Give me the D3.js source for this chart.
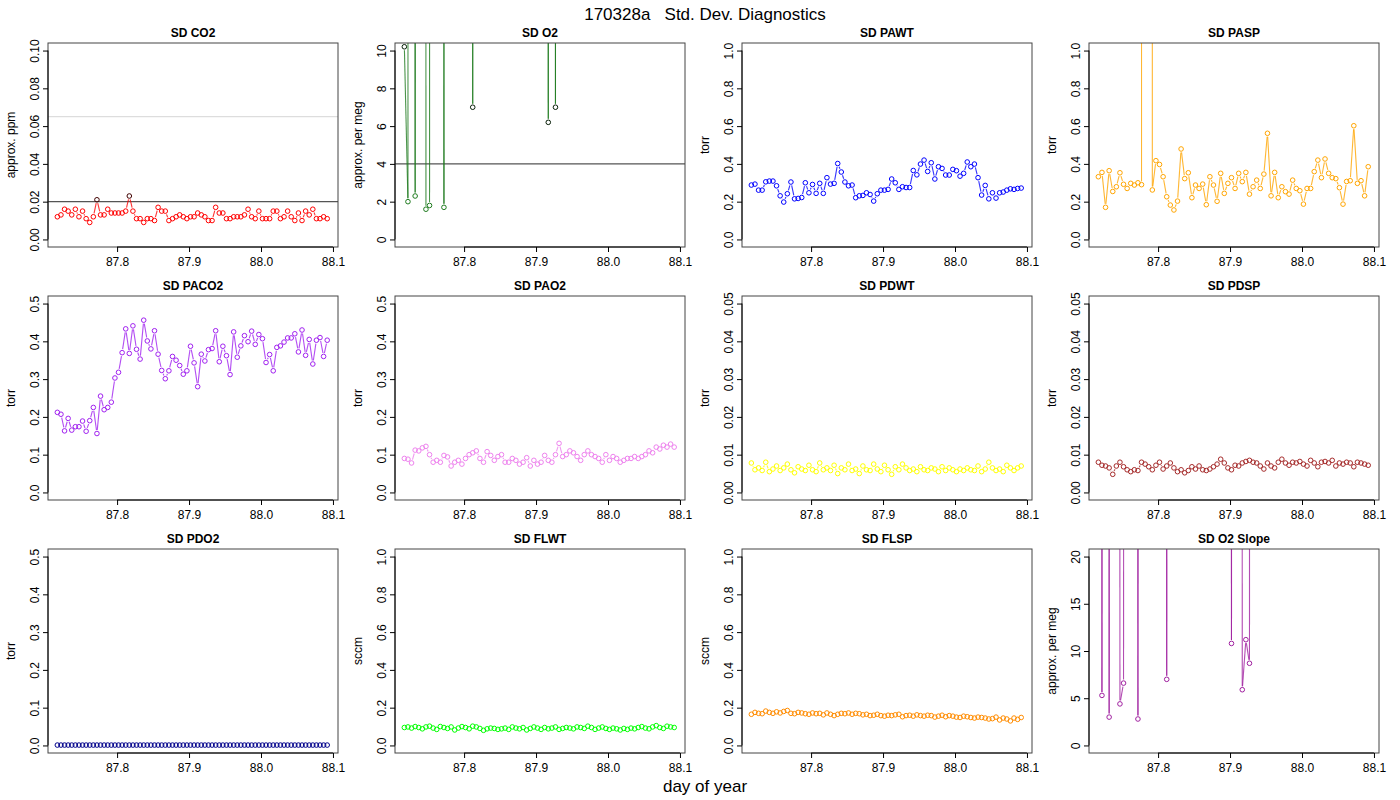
<!DOCTYPE html>
<html><head><meta charset="utf-8">
<script src="https://cdn.jsdelivr.net/npm/d3@7/dist/d3.min.js"></script>
<style>body{margin:0;background:#fff}text{font-family:"Liberation Sans",Arial,sans-serif}</style>
</head><body><svg id="c" width="1400" height="800"></svg>
<script>
const times=[87.717,87.722,87.727,87.732,87.737,87.742,87.747,87.752,87.757,87.762,87.767,87.772,87.777,87.782,87.787,87.792,87.797,87.802,87.807,87.812,87.817,87.822,87.827,87.832,87.837,87.842,87.847,87.852,87.857,87.862,87.867,87.872,87.877,87.882,87.887,87.892,87.897,87.902,87.907,87.912,87.917,87.922,87.927,87.932,87.937,87.942,87.947,87.952,87.957,87.962,87.967,87.972,87.977,87.982,87.987,87.992,87.997,88.002,88.007,88.012,88.017,88.022,88.027,88.032,88.037,88.042,88.047,88.052,88.057,88.062,88.067,88.072,88.077,88.082,88.087,88.092];
const xTicks=[87.8,87.9,88.0,88.1];
const H=999;
const sdCO2=[0.012,0.013,0.016,0.015,0.013,0.016,0.012,0.015,0.011,0.009,0.012,0.021,0.013,0.013,0.016,0.014,0.014,0.014,0.014,0.015,0.023,0.015,0.011,0.011,0.009,0.011,0.011,0.010,0.017,0.015,0.015,0.010,0.011,0.012,0.013,0.012,0.011,0.012,0.012,0.014,0.013,0.012,0.010,0.010,0.017,0.014,0.014,0.011,0.011,0.012,0.012,0.012,0.013,0.016,0.012,0.011,0.015,0.011,0.011,0.011,0.015,0.015,0.011,0.012,0.015,0.012,0.010,0.014,0.010,0.015,0.013,0.016,0.011,0.011,0.012,0.011];
const sdO2=[10.2,2.0,H,2.3,H,H,1.6,1.8,H,H,H,1.7,H,H,H,H,H,H,H,7.0,H,H,H,H,H,H,H,H,H,H,H,H,H,H,H,H,H,H,H,H,6.2,H,7.0,H,H,H,H,H,H,H,H,H,H,H,H,H,H,H,H,H,H,H,H,H,H,H,H,H,H,H,H,H,H,H,H,H];
const sdPAWT=[0.288,0.293,0.261,0.261,0.305,0.309,0.309,0.284,0.231,0.198,0.242,0.304,0.215,0.217,0.222,0.300,0.247,0.291,0.244,0.297,0.244,0.327,0.293,0.297,0.402,0.357,0.304,0.284,0.288,0.221,0.231,0.233,0.247,0.238,0.203,0.242,0.261,0.261,0.265,0.320,0.300,0.265,0.279,0.275,0.275,0.365,0.342,0.399,0.420,0.360,0.406,0.320,0.385,0.376,0.341,0.341,0.371,0.364,0.335,0.350,0.410,0.385,0.399,0.327,0.235,0.286,0.215,0.247,0.219,0.247,0.251,0.261,0.268,0.265,0.270,0.272];
const sdPASP=[0.332,0.355,0.170,0.364,0.254,0.279,0.353,0.292,0.270,0.297,0.288,0.300,0.290,H,H,0.262,0.417,0.397,0.332,0.226,0.182,0.156,0.203,0.479,0.322,0.353,0.221,0.288,0.270,0.293,0.184,0.332,0.288,0.202,0.350,0.244,0.297,0.327,0.270,0.350,0.306,0.355,0.240,0.279,0.314,0.270,0.346,0.562,0.231,0.355,0.221,0.279,0.253,0.240,0.314,0.270,0.258,0.187,0.270,0.270,0.359,0.420,0.327,0.426,0.350,0.327,0.322,0.274,0.187,0.307,0.311,0.602,0.297,0.311,0.231,0.385];
const sdPACO2=[0.212,0.207,0.163,0.196,0.165,0.174,0.174,0.189,0.162,0.190,0.225,0.156,0.255,0.219,0.225,0.239,0.303,0.318,0.370,0.433,0.368,0.441,0.379,0.353,0.456,0.401,0.380,0.428,0.366,0.323,0.301,0.322,0.360,0.350,0.336,0.313,0.322,0.387,0.343,0.280,0.366,0.348,0.378,0.381,0.428,0.346,0.387,0.362,0.312,0.425,0.358,0.388,0.415,0.399,0.427,0.392,0.418,0.407,0.344,0.365,0.322,0.384,0.388,0.398,0.409,0.409,0.420,0.372,0.430,0.363,0.405,0.340,0.403,0.410,0.360,0.403];
const sdPAO2=[0.090,0.088,0.078,0.112,0.110,0.118,0.122,0.100,0.080,0.085,0.080,0.098,0.094,0.070,0.080,0.085,0.075,0.090,0.100,0.105,0.110,0.090,0.080,0.108,0.098,0.085,0.095,0.100,0.080,0.080,0.090,0.085,0.075,0.080,0.092,0.070,0.085,0.075,0.080,0.098,0.085,0.080,0.100,0.130,0.095,0.100,0.110,0.105,0.095,0.085,0.100,0.110,0.100,0.095,0.090,0.080,0.100,0.085,0.095,0.090,0.080,0.085,0.090,0.090,0.095,0.090,0.095,0.100,0.110,0.105,0.120,0.115,0.125,0.120,0.128,0.120];
const sdPDWT=[0.0078,0.0060,0.0065,0.0058,0.0080,0.0055,0.0062,0.0070,0.0058,0.0065,0.0075,0.0060,0.0052,0.0068,0.0062,0.0058,0.0072,0.0060,0.0055,0.0078,0.0060,0.0065,0.0058,0.0072,0.0050,0.0065,0.0060,0.0075,0.0058,0.0062,0.0050,0.0070,0.0060,0.0058,0.0075,0.0062,0.0055,0.0072,0.0060,0.0048,0.0068,0.0060,0.0075,0.0065,0.0058,0.0062,0.0055,0.0068,0.0060,0.0058,0.0065,0.0062,0.0055,0.0068,0.0058,0.0065,0.0060,0.0055,0.0062,0.0058,0.0065,0.0060,0.0058,0.0070,0.0055,0.0062,0.0080,0.0065,0.0058,0.0062,0.0055,0.0072,0.0065,0.0058,0.0065,0.0070];
const sdPDSP=[0.0080,0.0072,0.0070,0.0065,0.0048,0.0070,0.0080,0.0068,0.0060,0.0055,0.0060,0.0058,0.0080,0.0075,0.0068,0.0060,0.0072,0.0080,0.0062,0.0070,0.0078,0.0065,0.0055,0.0060,0.0052,0.0058,0.0068,0.0062,0.0070,0.0060,0.0058,0.0062,0.0068,0.0075,0.0088,0.0078,0.0065,0.0060,0.0072,0.0070,0.0078,0.0082,0.0085,0.0080,0.0078,0.0070,0.0062,0.0078,0.0070,0.0065,0.0080,0.0088,0.0078,0.0072,0.0080,0.0078,0.0082,0.0075,0.0070,0.0085,0.0078,0.0068,0.0080,0.0082,0.0078,0.0085,0.0070,0.0078,0.0075,0.0080,0.0078,0.0068,0.0080,0.0078,0.0075,0.0072];
const sdPDO2=[0.001,0.001,0.001,0.001,0.001,0.001,0.001,0.001,0.001,0.001,0.001,0.001,0.001,0.001,0.001,0.001,0.001,0.001,0.001,0.001,0.001,0.001,0.001,0.001,0.001,0.001,0.001,0.001,0.001,0.001,0.001,0.001,0.001,0.001,0.001,0.001,0.001,0.001,0.001,0.001,0.001,0.001,0.001,0.001,0.001,0.001,0.001,0.001,0.001,0.001,0.001,0.001,0.001,0.001,0.001,0.001,0.001,0.001,0.001,0.001,0.001,0.001,0.001,0.001,0.001,0.001,0.001,0.001,0.001,0.001,0.001,0.001,0.001,0.001,0.001,0.001];
const sdFLWT=[0.095,0.098,0.092,0.100,0.095,0.088,0.098,0.102,0.092,0.085,0.100,0.095,0.090,0.098,0.082,0.092,0.100,0.095,0.088,0.102,0.098,0.090,0.080,0.088,0.092,0.090,0.085,0.088,0.092,0.085,0.098,0.092,0.088,0.095,0.082,0.090,0.098,0.092,0.085,0.095,0.088,0.092,0.098,0.085,0.090,0.095,0.092,0.088,0.098,0.095,0.090,0.102,0.095,0.085,0.092,0.098,0.090,0.085,0.092,0.088,0.082,0.090,0.085,0.092,0.088,0.095,0.100,0.092,0.088,0.098,0.105,0.095,0.090,0.102,0.098,0.095];
const sdFLSP=[0.165,0.175,0.170,0.168,0.182,0.175,0.170,0.178,0.172,0.180,0.185,0.170,0.168,0.175,0.172,0.168,0.165,0.172,0.168,0.170,0.162,0.172,0.165,0.158,0.165,0.170,0.168,0.172,0.165,0.170,0.168,0.162,0.165,0.158,0.160,0.165,0.158,0.155,0.160,0.158,0.162,0.165,0.152,0.158,0.160,0.155,0.162,0.158,0.155,0.160,0.158,0.150,0.155,0.160,0.152,0.158,0.155,0.150,0.148,0.155,0.152,0.148,0.145,0.150,0.148,0.145,0.140,0.142,0.150,0.135,0.145,0.140,0.130,0.145,0.138,0.148];
const sdO2Slope=[H,5.3,H,3.0,H,H,4.4,6.6,H,H,H,2.8,H,H,H,H,H,H,H,7.0,H,H,H,H,H,H,H,H,H,H,H,H,H,H,H,H,H,10.8,H,H,5.9,11.2,8.7,H,H,H,H,H,H,H,H,H,H,H,H,H,H,H,H,H,H,H,H,H,H,H,H,H,H,H,H,H,H,H,H,H];

const panels=[
 {t:"SD CO2",v:sdCO2,c:"#ff0000",ymax:0.1,yt:[0,0.02,0.04,0.06,0.08,0.1],f:".2f",lab:"approx. ppm",hl:[[0.02,"#555"],[0.065,"#ddd"]],thr:0.02},
 {t:"SD O2",v:sdO2,c:"#1e7b1e",ymax:10,yt:[0,2,4,6,8,10],f:"d",lab:"approx. per meg",hl:[[4,"#555"]],thr:4},
 {t:"SD PAWT",v:sdPAWT,c:"#0000ff",ymax:1,yt:[0,0.2,0.4,0.6,0.8,1],f:".1f",lab:"torr"},
 {t:"SD PASP",v:sdPASP,c:"#ffa500",ymax:1,yt:[0,0.2,0.4,0.6,0.8,1],f:".1f",lab:"torr"},
 {t:"SD PACO2",v:sdPACO2,c:"#a020f0",ymax:0.5,yt:[0,0.1,0.2,0.3,0.4,0.5],f:".1f",lab:"torr"},
 {t:"SD PAO2",v:sdPAO2,c:"#ee82ee",ymax:0.5,yt:[0,0.1,0.2,0.3,0.4,0.5],f:".1f",lab:"torr"},
 {t:"SD PDWT",v:sdPDWT,c:"#ffff00",ymax:0.05,yt:[0,0.01,0.02,0.03,0.04,0.05],f:".2f",lab:"torr"},
 {t:"SD PDSP",v:sdPDSP,c:"#a52a2a",ymax:0.05,yt:[0,0.01,0.02,0.03,0.04,0.05],f:".2f",lab:"torr"},
 {t:"SD PDO2",v:sdPDO2,c:"#00008b",ymax:0.5,yt:[0,0.1,0.2,0.3,0.4,0.5],f:".1f",lab:"torr"},
 {t:"SD FLWT",v:sdFLWT,c:"#00ff00",ymax:1,yt:[0,0.2,0.4,0.6,0.8,1],f:".1f",lab:"sccm"},
 {t:"SD FLSP",v:sdFLSP,c:"#ff8c00",ymax:1,yt:[0,0.2,0.4,0.6,0.8,1],f:".1f",lab:"sccm"},
 {t:"SD O2 Slope",v:sdO2Slope,c:"#a020a0",ymax:20,yt:[0,5,10,15,20],f:"d",lab:"approx. per meg"}
];
const svg=d3.select("#c");
svg.append("text").attr("x",705).attr("y",20).attr("text-anchor","middle").attr("font-size",17).style("white-space","pre").text("170328a   Std. Dev. Diagnostics");
svg.append("text").attr("x",705).attr("y",792).attr("text-anchor","middle").attr("font-size",17).text("day of year");
const lefts=[48,395,742,1089],tops=[43,296,549],W=290,PH=204,r=2.3;
panels.forEach((p,i)=>{
 const L=lefts[i%4],T=tops[Math.floor(i/4)];
 const g=svg.append("g").attr("transform",`translate(${L},${T})`);
 const x=d3.scaleLinear().domain([87.704,88.107]).range([0,W]);
 const pad=p.ymax*0.04;
 const y=d3.scaleLinear().domain([-pad,p.ymax+pad]).range([PH,0]);
 const cid="cl"+i;
 g.append("clipPath").attr("id",cid).append("rect").attr("width",W).attr("height",PH);
 const pg=g.append("g").attr("clip-path",`url(#${cid})`);
 (p.hl||[]).forEach(h=>pg.append("line").attr("x1",0).attr("x2",W).attr("y1",y(h[0])).attr("y2",y(h[0])).attr("stroke",h[1]).attr("stroke-width",1.3));
 const pts=p.v.map((v,k)=>({x:x(times[k]),y:y(v),v}));
 for(let k=0;k<pts.length-1;k++){
  const a=pts[k],b=pts[k+1];const dx=b.x-a.x,dy=b.y-a.y,d=Math.hypot(dx,dy);
  const gap=r+1.2; if(d<=2*gap) continue;
  pg.append("line").attr("x1",a.x+dx*gap/d).attr("y1",a.y+dy*gap/d).attr("x2",b.x-dx*gap/d).attr("y2",b.y-dy*gap/d)
   .attr("stroke",p.c).attr("stroke-opacity",0.8).attr("stroke-width",1.1);
 }
 const dark=d3.interpolateRgb(p.c,"#000")(0.75);
 pg.selectAll("circle").data(pts).join("circle").attr("cx",d=>d.x).attr("cy",d=>d.y).attr("r",r)
  .attr("fill","none").attr("stroke",d=>(p.thr!==undefined&&d.v>p.thr)?dark:p.c).attr("stroke-width",1);
 g.append("rect").attr("width",W).attr("height",PH).attr("fill","none").attr("stroke","#444").attr("stroke-width",1);
 const xa=g.append("g").attr("transform",`translate(0,${PH})`).call(d3.axisBottom(x).tickValues(xTicks).tickFormat(d3.format(".1f")).tickSize(5).tickSizeOuter(0));
 xa.select(".domain").attr("d",`M${x(87.8)},0H${x(88.1)}`);
 xa.selectAll("text").attr("font-size",12).attr("dy","0.9em").style("font-family","Liberation Sans, Arial");
 const ya=g.append("g").call(d3.axisLeft(y).tickValues(p.yt).tickFormat(d3.format(p.f)).tickSize(5).tickSizeOuter(0));
 ya.select(".domain").attr("d",`M0,${y(p.yt[0])}V${y(p.yt[p.yt.length-1])}`);
 ya.selectAll(".tick text").attr("font-size",12).attr("transform","rotate(-90)").attr("x",0).attr("y",-9).attr("dy",0).attr("text-anchor","middle").style("font-family","Liberation Sans, Arial");
 g.append("text").attr("x",W/2).attr("y",-6).attr("text-anchor","middle").attr("font-size",12).attr("font-weight","bold").text(p.t);
 g.append("text").attr("transform",`translate(-33,${PH/2}) rotate(-90)`).attr("text-anchor","middle").attr("font-size",12).text(p.lab);
});
</script></body></html>
